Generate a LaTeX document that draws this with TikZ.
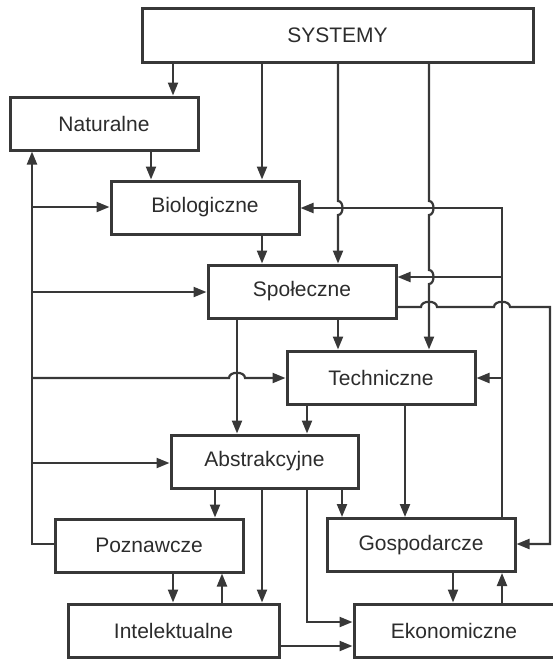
\documentclass[tikz,border=0pt]{standalone}
\usepackage{fontspec}
\setmainfont{Liberation Sans}
\usetikzlibrary{arrows.meta}
\definecolor{ln}{HTML}{383838}
\definecolor{tx}{HTML}{2C2C2C}
\begin{document}
\begin{tikzpicture}[x=1pt,y=-1pt,
  box/.style={draw=ln,line width=3pt,minimum width=188pt,minimum height=53pt,inner sep=0pt,
    font=\fontsize{21}{25}\selectfont,text=tx},
  arr/.style={draw=ln,line width=2.2pt,line join=miter,-{Triangle[length=13pt,width=10pt]}}]
\useasboundingbox (0,0) rectangle (552,659);
\node[box,minimum width=391pt,minimum height=54pt] (sys) at (337.5,35) {SYSTEMY};
\node[box] (nat) at (104,123.5) {Naturalne};
\node[box] (bio) at (205,207.5) {Biologiczne};
\node[box] (soc) at (302,291.5) {Społeczne};
\node[box] (tech) at (381,377.5) {Techniczne};
\node[box,minimum width=187pt] (abs) at (264.5,461.5) {Abstrakcyjne};
\node[box] (poz) at (149,545.5) {Poznawcze};
\node[box] (gos) at (421,545) {Gospodarcze};
\node[box,minimum width=211pt] (int) at (173.5,630.5) {Intelektualne};
\node[box,minimum width=200pt] (eko) at (454,630.5) {Ekonomiczne};
% from SYSTEMY
\draw[arr] (sys.south -| 173,0) -- (nat.north -| 173,0);
\draw[arr] (sys.south -| 262,0) -- (bio.north -| 262,0);
\draw[arr] (sys.south -| 338,0) -- (338,201) .. controls (344,201) and (344,215) .. (338,215) -- (soc.north -| 338,0);
\draw[arr] (sys.south -| 429,0) -- (429,201) .. controls (435,201) and (435,215) .. (429,215)
  -- (429,270) .. controls (435,270) and (435,284) .. (429,284) -- (tech.north -| 429,0);
% vertical flows
\draw[arr] (nat.south -| 151,0) -- (bio.north -| 151,0);
\draw[arr] (bio.south -| 262,0) -- (soc.north -| 262,0);
\draw[arr] (soc.south -| 338,0) -- (tech.north -| 338,0);
\draw[arr] (soc.south -| 237,0) -- (abs.north -| 237,0);
\draw[arr] (tech.south -| 307,0) -- (abs.north -| 307,0);
\draw[arr] (tech.south -| 405,0) -- (gos.north -| 405,0);
\draw[arr] (abs.south -| 215,0) -- (poz.north -| 215,0);
\draw[arr] (abs.south -| 262,0) -- (int.north -| 262,0);
\draw[arr] (abs.south -| 307,0) |- (eko.west |- 0,622);
\draw[arr] (abs.south -| 342,0) -- (gos.north -| 342,0);
\draw[arr] (poz.south -| 173,0) -- (int.north -| 173,0);
\draw[arr] (int.north -| 222,0) -- (poz.south -| 222,0);
\draw[arr] (gos.south -| 453,0) -- (eko.north -| 453,0);
\draw[arr] (eko.north -| 502,0) -- (gos.south -| 502,0);
\draw[arr] (int.east |- 0,646) -- (eko.west |- 0,646);
% left bus
\coordinate (L1) at (32,207);
\coordinate (L2) at (32,292);
\coordinate (L3) at (32,378);
\coordinate (L4) at (32,463);
\draw[arr] (poz.west |- 0,544) -| (nat.south -| 32,0);
\draw[arr] (L1) -- (bio.west |- L1);
\draw[arr] (L2) -- (soc.west |- L2);
\draw[arr] (L3) -- (229,378) .. controls (229,371) and (245,371) .. (245,378) -- (tech.west |- L3);
\draw[arr] (L4) -- (abs.west |- L4);
% right bus
\coordinate (R1) at (502,208);
\coordinate (R2) at (502,277);
\coordinate (R3) at (502,378);
\draw[arr] (gos.north -| R1) -- (R1) -- (bio.east |- R1);
\draw[arr] (R2) -- (soc.east |- R2);
\draw[arr] (R3) -- (tech.east |- R3);
% Spoleczne to Gospodarcze
\draw[arr] (soc.east |- 0,307) -- (421,307) .. controls (421,300) and (437,300) .. (437,307)
  -- (494,307) .. controls (494,300) and (510,300) .. (510,307) -- (550,307) |- (gos.east |- 0,544);
\end{tikzpicture}
\end{document}
